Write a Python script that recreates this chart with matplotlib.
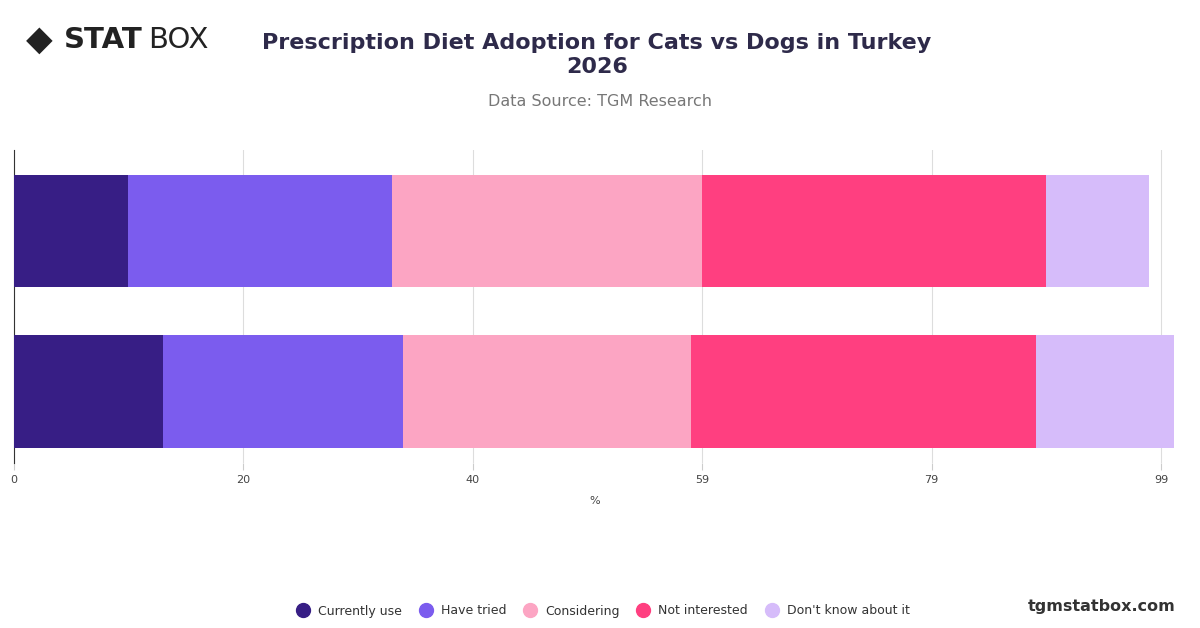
import numpy as np
import matplotlib.pyplot as plt
from matplotlib.lines import Line2D

groups = ["Cats", "Dogs"]
series = ["Currently use", "Have tried", "Considering", "Not interested", "Don't know about it"]
colors = ["#371E85", "#7B5CEE", "#FCA5C3", "#FF3F80", "#D6BCFA"]
values = [
    [9.8, 12.9],
    [22.8, 20.7],
    [26.8, 24.8],
    [29.7, 29.8],
    [8.9, 11.9],
]
tick_vals = [0, 19.8, 39.6, 59.4, 79.2, 99]
tick_labels = ["0", "20", "40", "59", "79", "99"]

W, H = 1200, 628
fig = plt.figure(figsize=(12, 6.28), dpi=100)
ax = fig.add_axes([14 / W, 1 - 463 / H, (1176 - 14) / W, (463 - 150) / H])

y = np.arange(len(groups))
left = np.zeros(len(groups))
for name, vals, c in zip(series, values, colors):
    ax.barh(y, vals, left=left, height=0.7, color=c, label=name, zorder=3)
    left += np.array(vals)

ax.set_ylim(1.445, -0.505)
ax.set_xlim(0, 100.3)
ax.set_yticks([])
ax.set_xticks(tick_vals)
ax.set_xticklabels(tick_labels, fontsize=8, color="#444444")
ax.tick_params(axis="x", length=5, color="#cccccc")
ax.grid(axis="x", color="#dddddd", linewidth=0.8, zorder=0)
for s in ["top", "right", "bottom"]:
    ax.spines[s].set_visible(False)
ax.spines["left"].set_color("#333333")
ax.set_xlabel("%", fontsize=8, color="#444444", labelpad=8)

fig.text(597 / W, 1 - 55 / H, "Prescription Diet Adoption for Cats vs Dogs in Turkey\n2026",
         ha="center", va="center", fontsize=16, fontweight="bold", color="#2E2A4A",
         linespacing=1.3)
fig.text(600 / W, 1 - 101 / H, "Data Source: TGM Research", ha="center", va="center",
         fontsize=11.5, color="#777777")

# logo
fig.text(26 / W, 1 - 40 / H, "◆", fontsize=25, color="#222222", va="center", ha="left")
fig.text(64 / W, 1 - 40 / H, "STAT", fontsize=21, fontweight="heavy", color="#222222",
         va="center", ha="left")
fig.text(148 / W, 1 - 40 / H, "BOX", fontsize=21, color="#222222", va="center", ha="left")

fig.text(1176 / W, 1 - 606 / H, "tgmstatbox.com", ha="right", va="center",
         fontsize=11.5, fontweight="bold", color="#333333")

handles = [Line2D([], [], marker="o", linestyle="", markersize=10, markerfacecolor=c,
                  markeredgecolor=c) for c in colors]
fig.legend(handles, series, loc="center", bbox_to_anchor=(600 / W, 1 - 611 / H), ncol=5,
           frameon=False, fontsize=9, columnspacing=0.9, handletextpad=0.2,
           labelcolor="#333333")

fig.savefig("out.png", dpi=100)
